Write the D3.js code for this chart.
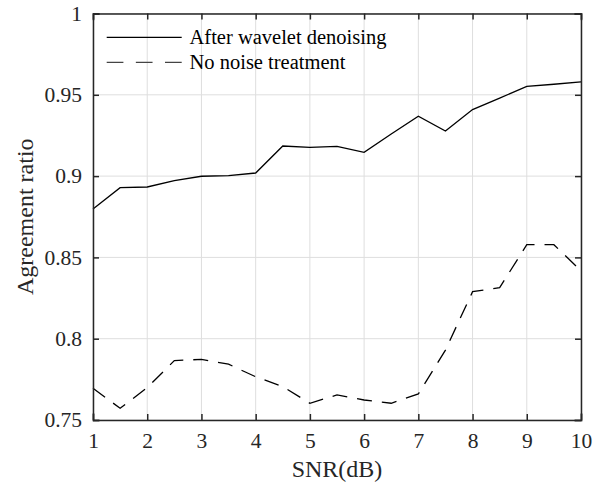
<!DOCTYPE html>
<html><head><meta charset="utf-8">
<script src="https://cdn.jsdelivr.net/npm/d3@7"></script>
<style>body{margin:0;background:#fff;} svg{display:block;}</style>
</head><body>
<script>
const snr = [1,1.5,2,2.5,3,3.5,4,4.5,5,5.5,6,6.5,7,7.5,8,8.5,9,9.5,10];
const wavelet = [0.8798,0.8929,0.8933,0.8972,0.8999,0.9003,0.9019,0.9185,0.9177,0.9183,0.9146,0.9259,0.9368,0.9277,0.9409,0.9480,0.9552,0.9565,0.9579];
const noTreat = [0.7695,0.7572,0.7699,0.7865,0.7873,0.7843,0.7766,0.7705,0.7603,0.7654,0.7623,0.7603,0.7660,0.7930,0.8289,0.8314,0.8578,0.8578,0.8418];
const xTicks = [1,2,3,4,5,6,7,8,9,10];
const yTicks = [0.75,0.8,0.85,0.9,0.95,1];
const yTickLabels = ["0.75","0.8","0.85","0.9","0.95","1"];
const seriesNames = ["After wavelet denoising","No noise treatment"];

const W=606,H=483;
const m={l:93,r:25,t:13.5,b:63};
const svg=d3.select("body").append("svg").attr("width",W).attr("height",H);
const x=d3.scaleLinear().domain([1,10]).range([m.l,W-m.r]);
const y=d3.scaleLinear().domain([0.75,1]).range([H-m.b,m.t]);
const font="'Liberation Serif','Times New Roman',serif";
const axisCol="#262626";

// grid
const g=svg.append("g");
g.selectAll(".gx").data(xTicks).join("line").attr("x1",d=>x(d)).attr("x2",d=>x(d))
 .attr("y1",y(0.75)).attr("y2",y(1)).attr("stroke","#dedede").attr("stroke-width",1);
g.selectAll(".gy").data(yTicks).join("line").attr("y1",d=>y(d)).attr("y2",d=>y(d))
 .attr("x1",x(1)).attr("x2",x(10)).attr("stroke","#dedede").attr("stroke-width",1);

// lines
const line=d3.line().x((d,i)=>x(snr[i])).y(d=>y(d));
svg.append("path").datum(wavelet).attr("d",line).attr("fill","none").attr("stroke","#000").attr("stroke-width",1.3);
svg.append("path").datum(noTreat).attr("d",line).attr("fill","none").attr("stroke","#000").attr("stroke-width",1.3).attr("stroke-dasharray","15,10");

// axes (ticks inward)
const tl=6;
const axB=d3.axisBottom(x).tickValues(xTicks).tickSize(-tl).tickPadding(13).tickFormat(d3.format("d"));
const axT=d3.axisTop(x).tickValues(xTicks).tickSize(-tl).tickFormat("");
const axL=d3.axisLeft(y).tickValues(yTicks).tickSize(-tl).tickPadding(11).tickFormat((d,i)=>yTickLabels[i]);
const axR=d3.axisRight(y).tickValues(yTicks).tickSize(-tl).tickFormat("");
function style(sel){
  sel.selectAll("path").attr("stroke",axisCol).attr("stroke-width",1.5);
  sel.selectAll("line").attr("stroke",axisCol).attr("stroke-width",1.5);
  sel.selectAll("text").attr("fill",axisCol).style("font-family",font).style("font-size","21.5px");
}
style(svg.append("g").attr("transform",`translate(0,${y(0.75)})`).call(axB));
style(svg.append("g").attr("transform",`translate(0,${y(1)})`).call(axT));
style(svg.append("g").attr("transform",`translate(${x(1)},0)`).call(axL));
style(svg.append("g").attr("transform",`translate(${x(10)},0)`).call(axR));
svg.selectAll(".domain").attr("stroke-linecap","square");

// axis labels
svg.append("text").attr("x",(x(1)+x(10))/2).attr("y",476.5).attr("text-anchor","middle")
 .style("font-family",font).style("font-size","24px").attr("fill",axisCol).text("SNR(dB)");
svg.append("text").attr("transform",`translate(33,${(y(0.75)+y(1))/2}) rotate(-90)`).attr("text-anchor","middle")
 .style("font-family",font).style("font-size","24px").attr("fill",axisCol).text("Agreement ratio");

// legend
const leg=svg.append("g");
const ly=[37.3,62.3];
seriesNames.forEach((n,i)=>{
  leg.append("line").attr("x1",106.7).attr("x2",181.7).attr("y1",ly[i]).attr("y2",ly[i])
   .attr("stroke",i?"#444":"#000").attr("stroke-width",1.3).attr("stroke-dasharray",i?"16.7,12.45":null);
  leg.append("text").attr("x",189.5).attr("y",ly[i]+7).style("font-family",font).style("font-size","20.5px")
   .attr("fill","#000").text(n);
});
</script>
</body></html>
